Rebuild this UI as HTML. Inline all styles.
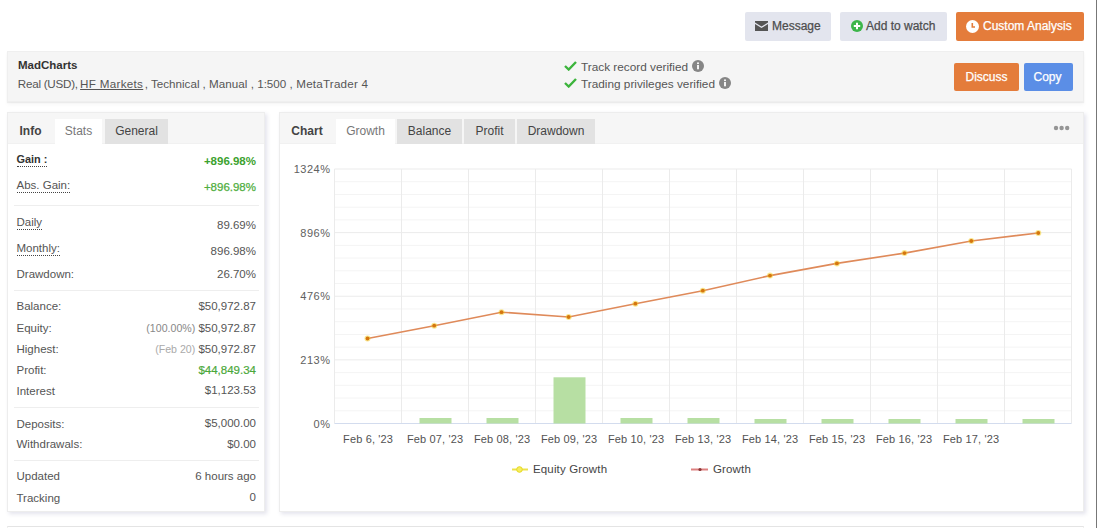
<!DOCTYPE html>
<html><head><meta charset="utf-8">
<style>
*{box-sizing:border-box;margin:0;padding:0}
html,body{width:1097px;height:528px;overflow:hidden;background:#fff}
body{position:relative;font-family:"Liberation Sans",sans-serif;color:#555;font-size:12px}
.a{position:absolute;white-space:nowrap}
.btn{position:absolute;height:29px;top:12px;border-radius:2px;font-size:12px;line-height:29px;color:#555}
.gbtn{background:#e3e5ee;color:#4e4e4e}
.obtn{background:#e47c3b;color:#fff}
.bbtn{background:#5b8ee6;color:#fff}
.hdr{position:absolute;left:7px;top:51px;width:1077px;height:51px;background:#f5f5f5;border:1px solid #efefef;box-shadow:0 1px 1px rgba(0,0,0,.05),0 3px 4px rgba(0,0,0,.03)}
.panel{position:absolute;top:112px;height:400px;background:#fff;border:1px solid #ededed;box-shadow:2px 2px 4px rgba(60,60,120,.14)}
.tb{font-weight:bold;font-size:11px;color:#444}
.ph{position:absolute;left:0;top:0;right:0;height:31px;background:#f6f6f6;border-bottom:1px solid #f1f1f1}
.tab{position:absolute;top:5.5px;height:25.5px;line-height:24px;font-size:12px;text-align:center;color:#444}
.sep{position:absolute;left:14px;width:245px;height:1px;background:#eeeeee}
.lb{position:absolute;left:16.5px;font-size:11.5px;line-height:14px;color:#555;white-space:nowrap}
.u{border-bottom:1px dotted #444;padding-bottom:1px}
.v{position:absolute;right:841px;font-size:11.5px;line-height:14px;color:#555;text-align:right;white-space:nowrap}
.sm{font-size:10.6px;color:#888}
.sm2{font-size:10.6px;color:#aaa}
.gr{color:#4aa83a;-webkit-text-stroke:0.2px currentColor}
.med{-webkit-text-stroke:0.25px currentColor}
</style></head><body>
<div class="btn gbtn" style="left:745px;width:86px">
  <svg class="a" style="left:10px;top:9px" width="13" height="10" viewBox="0 0 13 10"><path d="M0 0H13V1.5L6.5 5.5L0 1.5Z M0 3L6.5 7L13 3V10H0Z" fill="#555"/></svg>
  <span class="a med" style="left:27px;top:0">Message</span>
</div>
<div class="btn gbtn" style="left:840px;width:107px">
  <svg class="a" style="left:11px;top:8px" width="12" height="12" viewBox="0 0 12 12"><circle cx="6" cy="6" r="6" fill="#3cb54a"/><path d="M6 2.8V9.2M2.8 6H9.2" stroke="#fff" stroke-width="2"/></svg>
  <span class="a med" style="left:26px;top:0">Add to watch</span>
</div>
<div class="btn obtn" style="left:956px;width:128px">
  <svg class="a" style="left:10px;top:8px" width="13" height="13" viewBox="0 0 13 13"><circle cx="6.5" cy="6.5" r="6.5" fill="#fff"/><path d="M6.3 3V7H9" stroke="#e47c3b" stroke-width="1.6" fill="none"/></svg>
  <span class="a med" style="left:27px;top:0">Custom Analysis</span>
</div>
<div class="hdr">
  <span class="a" style="left:10px;top:7.3px;font-weight:bold;font-size:11.5px;color:#333">MadCharts</span>
  <span class="a" style="left:9.8px;top:24.8px;font-size:11.65px;color:#555;letter-spacing:-0.25px">Real (USD),</span>
  <span class="a" style="left:72.1px;top:24.8px;font-size:11.65px;color:#555;letter-spacing:0.3px"><span style="text-decoration:underline">HF Markets</span></span>
  <span class="a" style="left:136.7px;top:24.8px;font-size:11.65px;color:#555">, Technical</span>
  <span class="a" style="left:194.6px;top:24.8px;font-size:11.65px;color:#555">, Manual</span>
  <span class="a" style="left:242.7px;top:24.8px;font-size:11.65px;color:#555">, 1:500</span>
  <span class="a" style="left:281.4px;top:24.8px;font-size:11.65px;color:#555;letter-spacing:0.2px">, MetaTrader 4</span>
  <svg class="a" style="left:556px;top:9px" width="13" height="10" viewBox="0 0 13 10"><path d="M1 5L4.7 8.5L12 1" stroke="#3cb43c" stroke-width="2.4" fill="none"/></svg>
  <span class="a" style="left:573px;top:8.4px;font-size:11.8px">Track record verified</span>
  <svg class="a" style="left:683.7px;top:8.1px" width="12" height="12" viewBox="0 0 12 12"><circle cx="6" cy="6" r="6" fill="#868686"/><rect x="5.1" y="5" width="1.8" height="4.3" fill="#fff"/><circle cx="6" cy="3.3" r="1" fill="#fff"/></svg>
  <svg class="a" style="left:556px;top:26.2px" width="13" height="10" viewBox="0 0 13 10"><path d="M1 5L4.7 8.5L12 1" stroke="#3cb43c" stroke-width="2.4" fill="none"/></svg>
  <span class="a" style="left:573px;top:25.4px;font-size:11.8px">Trading privileges verified</span>
  <svg class="a" style="left:711.4px;top:24.8px" width="12" height="12" viewBox="0 0 12 12"><circle cx="6" cy="6" r="6" fill="#868686"/><rect x="5.1" y="5" width="1.8" height="4.3" fill="#fff"/><circle cx="6" cy="3.3" r="1" fill="#fff"/></svg>
  <div class="btn obtn med" style="left:946px;top:11px;width:65px;height:28px;line-height:28px;text-align:center">Discuss</div>
  <div class="btn bbtn med" style="left:1016px;top:11px;width:49px;height:28px;line-height:28px;text-align:center;padding-right:2px">Copy</div>
</div>
<div class="panel" style="left:7px;width:258px">
  <div class="ph"></div>
  <div class="tab tb" style="left:0;width:45px">Info</div>
  <div class="tab" style="left:47px;width:47px;background:#fff;color:#777">Stats</div>
  <div class="tab" style="left:97px;width:63px;background:#e2e2e2">General</div>
</div>
<div class="panel" style="left:279px;width:805px">
  <div class="ph"></div>
  <div class="tab tb" style="left:0;width:54px">Chart</div>
  <div class="tab" style="left:56px;width:59px;background:#fff;color:#777">Growth</div>
  <div class="tab" style="left:117px;width:65px;background:#e2e2e2">Balance</div>
  <div class="tab" style="left:184px;width:51px;background:#e2e2e2">Profit</div>
  <div class="tab" style="left:237px;width:78px;background:#e2e2e2">Drawdown</div>
  <svg class="a" style="left:773px;top:12px" width="18" height="6"><circle cx="3" cy="3" r="2.2" fill="#959595"/><circle cx="8.6" cy="3" r="2.2" fill="#959595"/><circle cx="14.2" cy="3" r="2.2" fill="#959595"/></svg>
</div>
<div class="sep" style="top:205px"></div>
<div class="sep" style="top:290px"></div>
<div class="sep" style="top:407px"></div>
<div class="sep" style="top:460px"></div>
<div class="lb" style="top:152.2px"><span class="u" style="font-weight:bold;color:#333;font-size:10.9px">Gain :</span></div><div class="v" style="top:154.0px"><span style="font-weight:bold;color:#3ca22f">+896.98%</span></div>
<div class="lb" style="top:178.0px"><span class="u">Abs. Gain:</span></div><div class="v" style="top:180.0px"><span class="med" style="color:#4fae40">+896.98%</span></div>
<div class="lb" style="top:215.0px"><span class="u">Daily</span></div><div class="v" style="top:218.4px">89.69%</div>
<div class="lb" style="top:241.0px"><span class="u">Monthly:</span></div><div class="v" style="top:244.4px">896.98%</div>
<div class="lb" style="top:267.0px">Drawdown:</div><div class="v" style="top:266.6px">26.70%</div>
<div class="lb" style="top:299.0px">Balance:</div><div class="v" style="top:299.3px">$50,972.87</div>
<div class="lb" style="top:321.0px">Equity:</div><div class="v" style="top:321.0px"><span class="sm">(100.00%)</span> $50,972.87</div>
<div class="lb" style="top:342.4px">Highest:</div><div class="v" style="top:341.8px"><span class="sm2">(Feb 20)</span> $50,972.87</div>
<div class="lb" style="top:363.3px">Profit:</div><div class="v" style="top:362.8px"><span class="gr">$44,849.34</span></div>
<div class="lb" style="top:384.0px">Interest</div><div class="v" style="top:383.2px">$1,123.53</div>
<div class="lb" style="top:416.5px">Deposits:</div><div class="v" style="top:415.9px">$5,000.00</div>
<div class="lb" style="top:437.3px">Withdrawals:</div><div class="v" style="top:436.7px">$0.00</div>
<div class="lb" style="top:469.2px">Updated</div><div class="v" style="top:469.1px">6 hours ago</div>
<div class="lb" style="top:491.0px">Tracking</div><div class="v" style="top:490.4px">0</div>
<svg class="a" style="left:0;top:0" width="1097" height="528" font-family="Liberation Sans" font-size="11" fill="#555">
<line x1="334.5" x2="1071.5" y1="181.72" y2="181.72" stroke="#f4f4f4"/>
<line x1="334.5" x2="1071.5" y1="194.45" y2="194.45" stroke="#f4f4f4"/>
<line x1="334.5" x2="1071.5" y1="207.18" y2="207.18" stroke="#f4f4f4"/>
<line x1="334.5" x2="1071.5" y1="219.90" y2="219.90" stroke="#f4f4f4"/>
<line x1="334.5" x2="1071.5" y1="245.35" y2="245.35" stroke="#f4f4f4"/>
<line x1="334.5" x2="1071.5" y1="258.07" y2="258.07" stroke="#f4f4f4"/>
<line x1="334.5" x2="1071.5" y1="270.80" y2="270.80" stroke="#f4f4f4"/>
<line x1="334.5" x2="1071.5" y1="283.52" y2="283.52" stroke="#f4f4f4"/>
<line x1="334.5" x2="1071.5" y1="308.98" y2="308.98" stroke="#f4f4f4"/>
<line x1="334.5" x2="1071.5" y1="321.70" y2="321.70" stroke="#f4f4f4"/>
<line x1="334.5" x2="1071.5" y1="334.43" y2="334.43" stroke="#f4f4f4"/>
<line x1="334.5" x2="1071.5" y1="347.15" y2="347.15" stroke="#f4f4f4"/>
<line x1="334.5" x2="1071.5" y1="372.60" y2="372.60" stroke="#f4f4f4"/>
<line x1="334.5" x2="1071.5" y1="385.32" y2="385.32" stroke="#f4f4f4"/>
<line x1="334.5" x2="1071.5" y1="398.05" y2="398.05" stroke="#f4f4f4"/>
<line x1="334.5" x2="1071.5" y1="410.77" y2="410.77" stroke="#f4f4f4"/>
<line x1="334.5" x2="1071.5" y1="169.00" y2="169.00" stroke="#ebebeb"/>
<line x1="334.5" x2="1071.5" y1="232.62" y2="232.62" stroke="#ebebeb"/>
<line x1="334.5" x2="1071.5" y1="296.25" y2="296.25" stroke="#ebebeb"/>
<line x1="334.5" x2="1071.5" y1="359.88" y2="359.88" stroke="#ebebeb"/>
<line x1="334.5" x2="334.5" y1="169" y2="423.5" stroke="#ebebeb"/>
<line x1="401.5" x2="401.5" y1="169" y2="423.5" stroke="#ebebeb"/>
<line x1="468.5" x2="468.5" y1="169" y2="423.5" stroke="#ebebeb"/>
<line x1="535.5" x2="535.5" y1="169" y2="423.5" stroke="#ebebeb"/>
<line x1="602.5" x2="602.5" y1="169" y2="423.5" stroke="#ebebeb"/>
<line x1="669.5" x2="669.5" y1="169" y2="423.5" stroke="#ebebeb"/>
<line x1="736.5" x2="736.5" y1="169" y2="423.5" stroke="#ebebeb"/>
<line x1="803.5" x2="803.5" y1="169" y2="423.5" stroke="#ebebeb"/>
<line x1="870.5" x2="870.5" y1="169" y2="423.5" stroke="#ebebeb"/>
<line x1="937.5" x2="937.5" y1="169" y2="423.5" stroke="#ebebeb"/>
<line x1="1004.5" x2="1004.5" y1="169" y2="423.5" stroke="#ebebeb"/>
<line x1="1071.5" x2="1071.5" y1="169" y2="423.5" stroke="#ebebeb"/>
<line x1="334.5" x2="1071.5" y1="423.5" y2="423.5" stroke="#d3dcee"/>
<rect x="419.5" y="418" width="32" height="5.5" fill="#b7dfa3"/>
<rect x="486.5" y="418" width="32" height="5.5" fill="#b7dfa3"/>
<rect x="553.5" y="377.3" width="32" height="46.19999999999999" fill="#b7dfa3"/>
<rect x="620.5" y="418" width="32" height="5.5" fill="#b7dfa3"/>
<rect x="687.5" y="418" width="32" height="5.5" fill="#b7dfa3"/>
<rect x="754.5" y="419" width="32" height="4.5" fill="#b7dfa3"/>
<rect x="821.5" y="419" width="32" height="4.5" fill="#b7dfa3"/>
<rect x="888.5" y="419" width="32" height="4.5" fill="#b7dfa3"/>
<rect x="955.5" y="419" width="32" height="4.5" fill="#b7dfa3"/>
<rect x="1022.5" y="419" width="32" height="4.5" fill="#b7dfa3"/>
<polyline points="367.5,338.5 434.2,325.7 501.5,312.2 568.6,317 635.4,303.7 702.8,290.7 770,275.6 836.9,263.4 904.5,253.1 971.3,241 1038.3,233" fill="none" stroke="#df8a5a" stroke-width="1.6"/>
<circle cx="367.5" cy="338.5" r="3" fill="#f5d020" opacity=".5"/><circle cx="367.5" cy="338.5" r="1.9" fill="#d5760f"/>
<circle cx="434.2" cy="325.7" r="3" fill="#f5d020" opacity=".5"/><circle cx="434.2" cy="325.7" r="1.9" fill="#d5760f"/>
<circle cx="501.5" cy="312.2" r="3" fill="#f5d020" opacity=".5"/><circle cx="501.5" cy="312.2" r="1.9" fill="#d5760f"/>
<circle cx="568.6" cy="317" r="3" fill="#f5d020" opacity=".5"/><circle cx="568.6" cy="317" r="1.9" fill="#d5760f"/>
<circle cx="635.4" cy="303.7" r="3" fill="#f5d020" opacity=".5"/><circle cx="635.4" cy="303.7" r="1.9" fill="#d5760f"/>
<circle cx="702.8" cy="290.7" r="3" fill="#f5d020" opacity=".5"/><circle cx="702.8" cy="290.7" r="1.9" fill="#d5760f"/>
<circle cx="770" cy="275.6" r="3" fill="#f5d020" opacity=".5"/><circle cx="770" cy="275.6" r="1.9" fill="#d5760f"/>
<circle cx="836.9" cy="263.4" r="3" fill="#f5d020" opacity=".5"/><circle cx="836.9" cy="263.4" r="1.9" fill="#d5760f"/>
<circle cx="904.5" cy="253.1" r="3" fill="#f5d020" opacity=".5"/><circle cx="904.5" cy="253.1" r="1.9" fill="#d5760f"/>
<circle cx="971.3" cy="241" r="3" fill="#f5d020" opacity=".5"/><circle cx="971.3" cy="241" r="1.9" fill="#d5760f"/>
<circle cx="1038.3" cy="233" r="3" fill="#f5d020" opacity=".5"/><circle cx="1038.3" cy="233" r="1.9" fill="#d5760f"/>
<text x="330.5" y="173.0" text-anchor="end" letter-spacing="0.5" fill="#606060">1324%</text>
<text x="330.5" y="236.6" text-anchor="end" letter-spacing="0.5" fill="#606060">896%</text>
<text x="330.5" y="300.2" text-anchor="end" letter-spacing="0.5" fill="#606060">476%</text>
<text x="330.5" y="363.9" text-anchor="end" letter-spacing="0.5" fill="#606060">213%</text>
<text x="330.5" y="427.5" text-anchor="end" letter-spacing="0.5" fill="#606060">0%</text>
<text x="368.1" y="442.5" text-anchor="middle" letter-spacing="0.15" fill="#525252">Feb 6, '23</text>
<text x="435.1" y="442.5" text-anchor="middle" letter-spacing="0.15" fill="#525252">Feb 07, '23</text>
<text x="502.1" y="442.5" text-anchor="middle" letter-spacing="0.15" fill="#525252">Feb 08, '23</text>
<text x="569.1" y="442.5" text-anchor="middle" letter-spacing="0.15" fill="#525252">Feb 09, '23</text>
<text x="636.1" y="442.5" text-anchor="middle" letter-spacing="0.15" fill="#525252">Feb 10, '23</text>
<text x="703.1" y="442.5" text-anchor="middle" letter-spacing="0.15" fill="#525252">Feb 13, '23</text>
<text x="770.1" y="442.5" text-anchor="middle" letter-spacing="0.15" fill="#525252">Feb 14, '23</text>
<text x="837.1" y="442.5" text-anchor="middle" letter-spacing="0.15" fill="#525252">Feb 15, '23</text>
<text x="904.1" y="442.5" text-anchor="middle" letter-spacing="0.15" fill="#525252">Feb 16, '23</text>
<text x="971.1" y="442.5" text-anchor="middle" letter-spacing="0.15" fill="#525252">Feb 17, '23</text>
<line x1="512" x2="528" y1="469.5" y2="469.5" stroke="#ece24a" stroke-width="2"/><circle cx="519.5" cy="469.5" r="2.8" fill="#f6ee60" stroke="#e6d820" stroke-width="1"/>
<text x="533" y="472.5" font-size="11.5" letter-spacing="0.15" fill="#454545">Equity Growth</text>
<line x1="691" x2="708" y1="469.5" y2="469.5" stroke="#dd8080" stroke-width="2"/><circle cx="700" cy="469.5" r="1.6" fill="#8b3535"/>
<text x="713" y="472.5" font-size="11.5" letter-spacing="0.15" fill="#454545">Growth</text>
</svg>
<div style="position:absolute;left:7px;top:526px;width:1077px;height:10px;border-top:1px solid #e4e4e4;border-left:1px solid #f0f0f0;border-right:1px solid #f0f0f0;background:#fff"></div>
<div style="position:absolute;left:1096px;top:0;width:1px;height:528px;background:#777"></div>
</body></html>
